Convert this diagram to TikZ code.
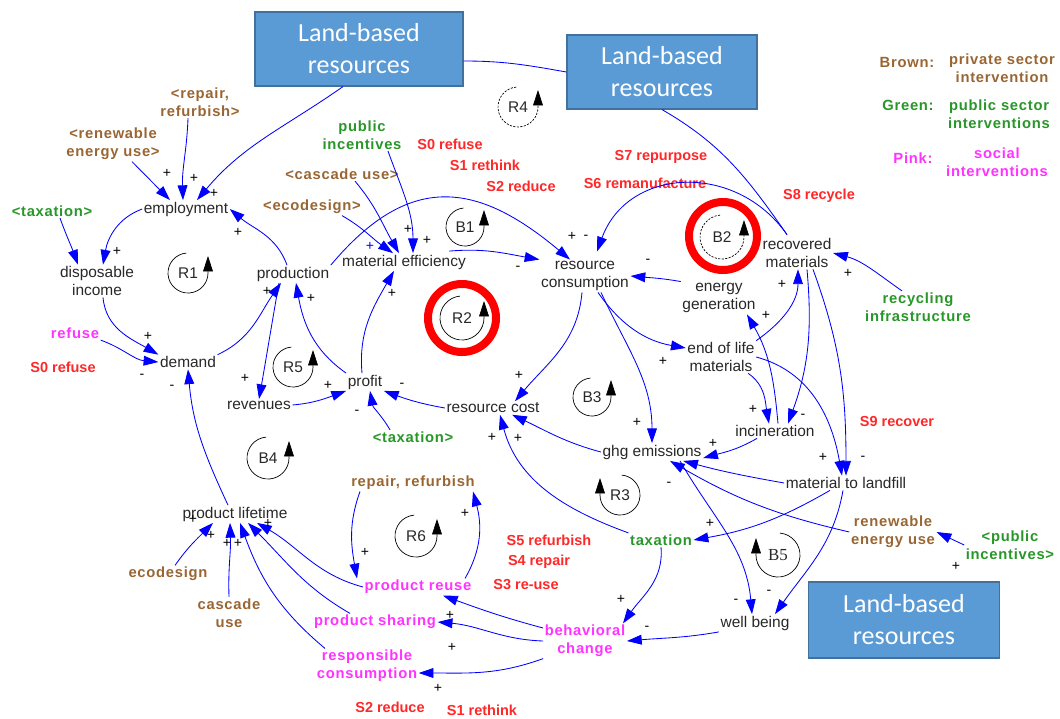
\documentclass[tikz,border=0pt]{standalone}
\usepackage{fontspec}
\setmainfont{Liberation Sans}
\newfontfamily\lblfont{Liberation Sans}[LetterSpace=5]
\newfontfamily\landfont{Carlito}
\newfontfamily\bfivefont{Liberation Serif}
\usetikzlibrary{arrows.meta,calc}
\definecolor{boxfill}{RGB}{91,155,213}
\definecolor{boxedge}{RGB}{65,113,156}
\definecolor{brownc}{RGB}{153,102,51}
\definecolor{greenc}{RGB}{40,150,40}
\definecolor{pinkc}{RGB}{255,51,255}
\definecolor{redc}{RGB}{255,40,40}
\definecolor{linkblue}{RGB}{0,0,255}
\definecolor{vartext}{RGB}{40,40,40}

\begin{document}
\begin{tikzpicture}[
  x=0.025cm, y=0.025cm,
  var/.style={
    align=center,
    inner sep=1pt,
    text=vartext,
    font=\fontsize{11}{12.8}\selectfont
  },
  lbl/.style={
    align=center,
    inner sep=1pt,
    font=\lblfont\bfseries\fontsize{10.5}{12.8}\selectfont
  },
  brownlbl/.style={lbl,text=brownc},
  greenlbl/.style={lbl,text=greenc},
  pinklbl/.style={lbl,text=pinkc},
  redlbl/.style={
    inner sep=1pt,
    text=redc,
    font=\bfseries\fontsize{10.3}{12}\selectfont
  },
  landbox/.style={
    draw=boxedge,
    fill=boxfill,
    line width=0.8pt,
    text=white,
    align=center,
    font=\landfont\fontsize{18.5}{22.8}\selectfont
  },
  sign/.style={inner sep=0pt,text=black,font=\fontsize{10}{10}\selectfont},
  loopid/.style={inner sep=0pt,text=vartext,font=\fontsize{11}{11}\selectfont},
  loopline/.style={draw=black,line width=0.5pt,-{Triangle[length=11pt,width=7pt]}},
  ring/.style={draw=red,line width=5.7pt},
  link/.style={draw=linkblue,line width=0.6pt,-{Triangle[length=10.5pt,width=7pt]}},
  plainlink/.style={draw=linkblue,line width=0.6pt}
]
\useasboundingbox (0,0) rectangle (1060,-718);

\node[landbox,minimum width=5.2cm,minimum height=1.85cm] (lbA) at (359,-49) {Land-based\\resources};
\node[landbox,minimum width=4.75cm,minimum height=1.85cm] (lbB) at (662,-72) {Land-based\\resources};
\node[landbox,minimum width=4.78cm,minimum height=1.9cm] (lbC) at (904,-620) {Land-based\\resources};

\node[brownlbl] (legBrownKey) at (907,-62) {Brown:};
\node[brownlbl] (legBrown) at (1002,-68) {private sector\\intervention};
\node[greenlbl] (legGreenKey) at (908,-105) {Green:};
\node[greenlbl] (legGreen) at (999,-114) {public sector\\interventions};
\node[pinklbl] (legPinkKey) at (913,-158) {Pink:};
\node[pinklbl] (legPink) at (997,-162) {social\\interventions};

\node[var] (emp) at (186,-209) {employment};
\node[var] (dinc) at (97,-281) {disposable\\income};
\node[var] (dem) at (188,-362) {demand};
\node[var] (prod) at (293,-274) {production};
\node[var] (meff) at (404,-262) {material efficiency};
\node[var] (rcons) at (585,-276) {resource\\consumption};
\node[var] (egen) at (719,-298) {energy\\generation};
\node[var] (recm) at (797,-253) {recovered\\materials};
\node[var] (eol) at (721,-357) {end of life\\materials};
\node[var] (rev) at (259,-405) {revenues};
\node[var] (profit) at (365,-382) {profit};
\node[var] (rcost) at (493,-408) {resource cost};
\node[var] (incin) at (775,-431) {incineration};
\node[var] (ghg) at (652,-452) {ghg emissions};
\node[var] (mtl) at (846,-483) {material to landfill};
\node[var] (plife) at (235,-514) {product lifetime};
\node[var] (wellb) at (755,-623) {well being};

\node[brownlbl] (repA) at (200,-102) {<repair,\\refurbish>};
\node[brownlbl] (renA) at (113,-144) {<renewable\\energy use>};
\node[greenlbl] (taxA) at (52,-211) {<taxation>};
\node[greenlbl] (pubinc) at (362,-135) {public\\incentives};
\node[brownlbl] (cascA) at (342,-174) {<cascade use>};
\node[brownlbl] (ecoA) at (312,-207) {<ecodesign>};
\node[pinklbl] (refuse) at (75,-333) {refuse};
\node[greenlbl] (taxB) at (413,-437) {<taxation>};
\node[greenlbl] (recinf) at (918,-307) {recycling\\infrastructure};
\node[brownlbl] (renew) at (893,-532) {renewable\\energy use};
\node[greenlbl] (pubincB) at (1010,-545) {<public\\incentives>};
\node[greenlbl] (tax) at (661,-540) {taxation};
\node[brownlbl] (repref) at (413,-483) {repair, refurbish};
\node[pinklbl] (preuse) at (418,-587) {product reuse};
\node[pinklbl] (pshare) at (375,-622) {product sharing};
\node[pinklbl] (rcons2) at (367,-666) {responsible\\consumption};
\node[pinklbl] (behav) at (585,-641) {behavioral\\change};
\node[brownlbl] (eco) at (168,-574) {ecodesign};
\node[brownlbl] (casc) at (229,-613) {cascade\\use};

\node[redlbl] (sRefuseA) at (63,-367) {S0 refuse};
\node[redlbl] (sRefuseB) at (450,-144) {S0 refuse};
\node[redlbl] (sRethinkA) at (485,-165) {S1 rethink};
\node[redlbl] (sReduceA) at (521,-186) {S2 reduce};
\node[redlbl] (sRepurpose) at (661,-157) {S7 repurpose};
\node[redlbl] (sReman) at (645,-183) {S6 remanufacture};
\node[redlbl] (sRecycle) at (819,-196) {S8 recycle};
\node[redlbl] (sRecover) at (897,-422) {S9 recover};
\node[redlbl] (sRefurb) at (549,-540) {S5 refurbish};
\node[redlbl] (sRepair) at (539,-562) {S4 repair};
\node[redlbl] (sReuse) at (526,-585) {S3 re-use};
\node[redlbl] (sReduceB) at (390,-707) {S2 reduce};
\node[redlbl] (sRethinkB) at (482,-710) {S1 rethink};

\node[loopid] (lR4) at (518,-107) {R4};
\node[loopid] (lR1) at (188,-273) {R1};
\node[loopid] (lB1) at (465,-227) {B1};
\node[loopid] (lR2) at (462,-318) {R2};
\node[loopid] (lB2) at (722,-237) {B2};
\node[loopid] (lR5) at (293,-367) {R5};
\node[loopid] (lB3) at (592,-397) {B3};
\node[loopid] (lB4) at (268,-458) {B4};
\node[loopid] (lR3) at (620,-495) {R3};
\node[loopid] (lR6) at (416,-536) {R6};
\node[loopid,font=\bfivefont\fontsize{12}{12}\selectfont] (lB5) at (778,-555) {B5};

\draw[ring] (lR2.center) circle[radius=34];
\draw[ring] ($(lB2.center)+(1,1)$) circle[radius=34];
\draw[loopline,dash pattern=on 1.5pt off 1pt] ($(lR4.center)+(95:20)$) arc[start angle=95,end angle=360,radius=20] -- ++(0,17);
\draw[loopline] ($(lR1.center)+(95:20)$) arc[start angle=95,end angle=360,radius=20] -- ++(0,17);
\draw[loopline] ($(lB1.center)+(95:19)$) arc[start angle=95,end angle=360,radius=19] -- ++(0,17);
\draw[loopline] ($(lR2.center)+(95:22)$) arc[start angle=95,end angle=360,radius=22] -- ++(0,17);
\draw[loopline,dash pattern=on 1.5pt off 1pt] ($(lB2.center)+(95:22)$) arc[start angle=95,end angle=360,radius=22] -- ++(0,17);
\draw[loopline] ($(lR5.center)+(95:20)$) arc[start angle=95,end angle=360,radius=20] -- ++(0,17);
\draw[loopline] ($(lB3.center)+(95:19)$) arc[start angle=95,end angle=360,radius=19] -- ++(0,17);
\draw[loopline] ($(lB4.center)+(95:21)$) arc[start angle=95,end angle=360,radius=21] -- ++(0,17);
\draw[loopline] ($(lR6.center)+(95:21)$) arc[start angle=95,end angle=360,radius=21] -- ++(0,17);
\draw[loopline] ($(lR3.center)+(85:20)$) arc[start angle=85,end angle=-180,radius=20] -- ++(0,17);
\draw[loopline] ($(lB5.center)+(85:22)$) arc[start angle=85,end angle=-180,radius=22] -- ++(0,17);

\draw[plainlink] ($(lbA.east)+(0,-12)$) to[out=0,in=170] (lbB.west);
\draw[plainlink] (lbB.south) to[out=-30,in=125] ($(recm.north)+(-10,2)$);

\draw[link] ($(repA.south)+(-12,0)$) to[out=-92,in=92] ($(emp.north)+(-3,0)$);
\draw[link] ($(renA.south)+(19,0)$) -- ($(emp.north)+(-16,0)$);
\draw[link] ($(lbA.south)+(-16,0)$) to[out=215,in=50] ($(emp.north)+(11,0)$);
\draw[link] ($(prod.north)+(-6,0)$) to[out=110,in=-40] (emp.east);
\draw[link] (emp.west) to[out=200,in=80] ($(dinc.north)+(6,0)$);
\draw[link] ($(taxA.south)+(8,0)$) to[out=-70,in=110] ($(dinc.north)+(-19,0)$);
\draw[link] ($(dinc.south)+(6,0)$) to[out=-85,in=150] (dem.north west);
\draw[link] (refuse.south east) to[out=-20,in=175] (dem.west);
\draw[link] ($(plife.north)+(-7,0)$) to[out=115,in=-85] (dem.south);
\draw[link] (dem.north east) to[out=25,in=-125] ($(prod.south)+(-12,0)$);
\draw[link] ($(prod.south)+(-14,0)$) to[out=-100,in=80] (rev.north);
\draw[link] (rev.east) to[out=5,in=-160] (profit.south west);
\draw[link] (profit.north west) to[out=145,in=-80] ($(prod.south)+(3,0)$);
\draw[link] ($(profit.north)+(-3,0)$) to[out=95,in=-120] ($(meff.south)+(-10,0)$);
\draw[link] (rcost.west) to[out=170,in=-20] (profit.south east);
\draw[link] ($(taxB.north)+(-23,0)$) to[out=120,in=-80] ($(profit.south)+(5,0)$);
\draw[link] (prod.north east) to[out=50,in=140,looseness=1.3] ($(rcons.north)+(-15,0)$);
\draw[link] ($(ecoA.south)+(30,0)$) to[out=-30,in=145] ($(meff.north)+(-11,0)$);
\draw[link] ($(cascA.south)+(13,0)$) to[out=-50,in=120] ($(meff.north)+(-5,0)$);
\draw[link] ($(pubinc.south)+(26,0)$) to[out=-70,in=90] ($(meff.north)+(9,0)$);
\draw[link] ($(meff.north east)+(-18,2)$) to[out=5,in=170] (rcons.north west);
\draw[link] (egen.north west) to[out=170,in=-5] (rcons.east);
\draw[link] ($(recm.north)+(-10,2)$) to[out=125,in=70,looseness=1.2] ($(rcons.north)+(12,8)$);
\draw[link] ($(rcons.south)+(13,0)$) to[out=-55,in=170] ($(eol.west)+(0,9)$);
\draw[link] ($(rcons.south)+(-3,0)$) to[out=-95,in=50] ($(rcost.north)+(22,0)$);
\draw[link] ($(rcons.south)+(16,0)$) to[out=-65,in=90] (ghg.north);
\draw[link] (eol.north east) to[out=35,in=-90] ($(recm.south)+(1,0)$);
\draw[link] ($(eol.south east)+(-8,0)$) to[out=-35,in=100] ($(incin.north)+(-6,0)$);
\draw[link] ($(recm.south)+(10,0)$) to[out=-85,in=70] ($(incin.north)+(13,0)$);
\draw[link] ($(recm.south)+(16,0)$) to[out=-70,in=90] (mtl.north);
\draw[link] (eol.east) to[out=-15,in=100] ($(mtl.north)+(-4,0)$);
\draw[link] ($(incin.north)+(3,0)$) to[out=95,in=-60] ($(egen.south)+(28,0)$);
\draw[link] ($(incin.south)+(-18,0)$) to[out=-150,in=15] ($(ghg.east)+(0,-6)$);
\draw[link] (mtl.west) to[out=170,in=-15] ($(ghg.south east)+(-20,0)$);
\draw[link] (renew.west) to[out=167,in=-30] ($(ghg.south)+(18,0)$);
\draw[link] ($(recinf.north)+(-16,0)$) to[out=145,in=-15] (recm.east);
\draw[link] (ghg.west) to[out=165,in=-25] ($(rcost.south)+(19,0)$);
\draw[link] (tax.north west) to[out=160,in=-75] ($(rcost.south)+(7,0)$);
\draw[link] ($(mtl.south)+(-16,0)$) to[out=-150,in=10] (tax.east);
\draw[link] ($(ghg.south)+(28,0)$) to[out=-60,in=95] ($(wellb.north)+(-3,0)$);
\draw[link] ($(mtl.south)+(-3,0)$) to[out=-100,in=55] ($(wellb.north)+(20,0)$);
\draw[link] (pubincB.west) -- (renew.east);
\draw[link] (tax.south) to[out=-85,in=55] ($(behav.north)+(38,0)$);
\draw[link] (wellb.south west) to[out=-170,in=5] (behav.east);
\draw[link] ($(behav.west)+(0,13)$) to[out=165,in=-20] ($(preuse.south)+(25,0)$);
\draw[link] (behav.west) to[out=178,in=-5] (pshare.east);
\draw[link] (behav.south west) to[out=-160,in=0] ($(rcons2.east)+(0,-7)$);
\draw[link] ($(preuse.north)+(47,0)$) to[out=60,in=-75] ($(repref.south)+(60,0)$);
\draw[link] ($(repref.south)+(-53,0)$) to[out=-110,in=100] ($(preuse.north)+(-61,0)$);
\draw[link] (preuse.west) to[out=165,in=-30] ($(plife.south)+(22,0)$);
\draw[link] ($(pshare.north)+(-25,0)$) to[out=150,in=-45] ($(plife.south)+(13,0)$);
\draw[link] ($(rcons2.north)+(-42,0)$) to[out=140,in=-70] ($(plife.south)+(5,0)$);
\draw[link] (casc.north) to[out=92,in=-88] ($(plife.south)+(-5,0)$);
\draw[link] ($(eco.north)+(7,0)$) to[out=55,in=-135] ($(plife.south)+(-22,0)$);

\node[sign,text=linkblue] (meffSign) at (370,-246) {+};
\foreach \sx/\sy/\sg [count=\i] in {167/173/+, 194/178/+, 214/193/+, 238/232/+,
  117/251/+, 148/336/+, 142/376/-, 172/387/-, 267/291/+, 311/298/+, 245/378/+,
  328/385/+, 408/229/+, 427/240/+, 392/293/+, 402/385/-, 357/412/-, 518/268/-,
  572/236/+, 586/237/-, 648/261/-, 519/375/+, 637/422/+, 663/361/+, 782/284/+,
  766/315/+, 848/273/+, 753/409/+, 803/416/-, 823/457/+, 863/458/-, 713/443/+,
  492/437/+, 518/438/+, 669/484/-, 710/523/+, 736/601/-, 769/592/-, 956/566/+,
  621/599/+, 647/628/-, 450/615/+, 452/647/+, 438/688/+, 465/513/+, 365/552/+,
  193/519/+, 268/523/+, 211/535/+, 227/543/+, 238/543/+}
  \node[sign] (sg\i) at (\sx,-\sy) {\sg};
\end{tikzpicture}
\end{document}
